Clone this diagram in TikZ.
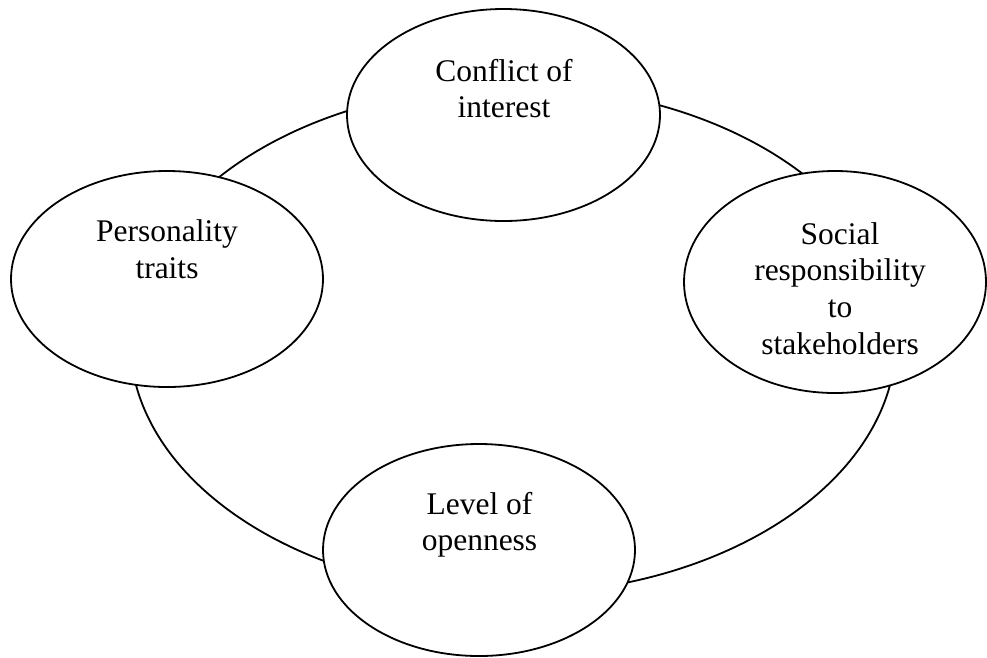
\documentclass[tikz,border=0pt]{standalone}
\usepackage{fontspec}
\setmainfont{Liberation Serif}
\usetikzlibrary{shapes.geometric}

% Text lines stacked and centred; the baseline sits on the first line
\newcommand{\stackedtext}[1]{\begin{tabular}[t]{@{}c@{}}#1\end{tabular}}

\tikzset{
  ring/.style={line width=1.8pt},
  bubble/.style={ellipse, draw, line width=1.8pt, fill=white, inner sep=0pt},
  caption/.style={anchor=base, inner sep=0pt, font=\fontsize{31.5}{36.7}\selectfont}
}

\begin{document}
\begin{tikzpicture}[x=1pt, y=-1pt]
  \useasboundingbox (0,0) rectangle (987,657);

  % large ring joining the four factors
  \draw[ring] (513,340) ellipse [x radius=383, y radius=254];

  % the four factors
  \node[bubble, minimum width=313pt, minimum height=212pt] (conflict) at (503.5,115) {};
  \node[bubble, minimum width=312pt, minimum height=216pt] (personality) at (167,279) {};
  \node[bubble, minimum width=302pt, minimum height=222pt] (social) at (835,282) {};
  \node[bubble, minimum width=312pt, minimum height=212pt] (openness) at (479,550) {};

  % labels
  \node[caption] (conflictText) at (504,81) {\stackedtext{Conflict of\\interest}};
  \node[caption] (personalityText) at (167,241.7) {\stackedtext{Personality\\traits}};
  \node[caption] (socialText) at (840,244) {\stackedtext{Social\\responsibility\\to\\stakeholders}};
  \node[caption] (opennessText) at (479.5,514) {\stackedtext{Level of\\openness}};
\end{tikzpicture}
\end{document}
